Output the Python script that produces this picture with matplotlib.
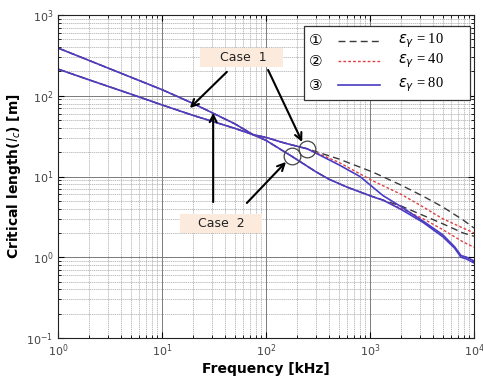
import numpy as np
import matplotlib
matplotlib.use('Agg')
from matplotlib import pyplot as plt
from matplotlib.patches import Rectangle

# curve A: upper at low frequency, lower group at high frequency (case 2 circle)
fA = [1, 2, 5, 10, 20, 30, 50, 75, 100, 178, 300, 400, 600, 1070, 1334]
vA = [390, 273, 170, 119, 80, 62, 45, 33, 28, 17.7, 11.5, 9.3, 7.4, 5.6, 5.1]
# high frequency split of group A
fA_hi = [1334, 2000, 3240, 5000, 7840, 10000]
vA_k10 = [5.1, 4.3, 3.3, 2.6, 2.0, 1.82]
vA_k40 = [5.0, 4.0, 3.0, 2.2, 1.55, 1.33]
fA_b80 = [1334, 2000, 3240, 5000, 6500, 7500, 8500, 10000]
vA_k80 = [4.9, 3.9, 2.7, 1.8, 1.3, 1.0, 0.95, 0.85]

# curve B: lower at low frequency, upper group at high frequency (case 1 circle)
fB = [1, 2, 5, 10, 20, 50, 75, 100, 150, 250]
vB = [214, 157, 105, 77, 57, 39.5, 33, 30.5, 26, 22]
fB_hi = [250, 500, 1070, 2000, 3240, 5000, 7840, 10000]
vB_k10 = [22, 16.5, 11.3, 7.8, 5.7, 4.2, 2.9, 2.3]
vB_k40 = [21.5, 15.0, 8.8, 6.0, 4.2, 3.0, 2.3, 2.0]
fB_b80 = [250, 500, 800, 1334, 1950, 3240, 5000, 6500, 7500, 8500, 10000]
vB_k80 = [21, 14, 10, 5.8, 4.3, 2.8, 1.9, 1.35, 1.05, 1.0, 0.9]

eps_labels = ['10', '40', '80']
circled = ['\u2460', '\u2461', '\u2462']
styles = [dict(color='#3a3a3a', ls=(0, (5, 3)), lw=1.0),
          dict(color='#e04040', ls=(0, (2, 1.5)), lw=1.0),
          dict(color='#4a3cc4', ls='-', lw=1.2)]

fig = plt.figure(figsize=(4.83, 3.82), dpi=100)
ax = fig.add_axes([58/483, 44/382, 416/483, 323/382])

def hi(f0, v0, f1, v1):
    return np.array(f0 + f1[1:]), np.array(v0 + v1[1:])

# black, red, then blue on top
for f0, v0, sets in [(fA, vA, [(fA_hi, vA_k10), (fA_hi, vA_k40), (fA_b80, vA_k80)]),
                     (fB, vB, [(fB_hi, vB_k10), (fB_hi, vB_k40), (fB_b80, vB_k80)])]:
    for (f1, v1), st in zip(sets, styles):
        x, y = hi(f0, v0, f1, v1)
        ax.plot(x, y, **st)

ax.set_xscale('log')
ax.set_yscale('log')
ax.set_xlim(1, 1e4)
ax.set_ylim(0.1, 1000)
ax.grid(True, which='major', color='#7a7a7a', lw=0.7)
ax.grid(True, which='minor', color='#a8a8a8', lw=0.5, ls=(0, (2, 1)))
ax.tick_params(which='both', direction='in', top=True, right=True, labelsize=8,
               labelcolor='#444444')
ax.tick_params(which='major', length=4)
ax.tick_params(which='minor', length=2)
for s in ax.spines.values():
    s.set_color('#222222')
    s.set_linewidth(0.8)

ax.set_xlabel('Frequency [kHz]', fontsize=10, fontweight='bold', labelpad=2)
ax.set_ylabel(r'Critical length($\mathit{l}_{c}$) [m]', fontsize=10,
              fontweight='bold', labelpad=2)

# legend box drawn by hand
ax.add_patch(Rectangle((0.591, 0.737), 0.400, 0.229, transform=ax.transAxes,
                       facecolor='white', edgecolor='#333333', lw=0.9, zorder=5))
rows_y = [0.920, 0.857, 0.783]
for ry, c, lab, st in zip(rows_y, circled, eps_labels, styles):
    ax.text(0.619, ry, c, transform=ax.transAxes, ha='center', va='center',
            fontsize=11, family=['DejaVu Sans', 'Noto Sans CJK SC'], zorder=6)
    ax.plot([0.673, 0.774], [ry, ry], transform=ax.transAxes, zorder=6, **st)
    ax.text(0.818, ry, r'$\varepsilon_{\gamma}$ = ' + lab, transform=ax.transAxes,
            ha='left', va='center', fontsize=10.5, family='Liberation Serif', zorder=6)

# case boxes
box_c = '#fcebdd'
ax.add_patch(Rectangle((0.341, 0.839), 0.200, 0.059, transform=ax.transAxes,
                       facecolor=box_c, edgecolor='none', zorder=4))
ax.text(0.445, 0.868, 'Case  1', transform=ax.transAxes, ha='center', va='center',
        fontsize=9, color='#222222', zorder=6)
ax.add_patch(Rectangle((0.293, 0.325), 0.197, 0.059, transform=ax.transAxes,
                       facecolor=box_c, edgecolor='none', zorder=4))
ax.text(0.392, 0.354, 'Case  2', transform=ax.transAxes, ha='center', va='center',
        fontsize=9, color='#222222', zorder=6)

arrows = [((0.406, 0.824), (0.317, 0.712)),
          ((0.505, 0.830), (0.587, 0.607)),
          ((0.373, 0.421), (0.373, 0.697)),
          ((0.454, 0.418), (0.548, 0.545))]
for tail, head in arrows:
    ax.annotate('', xy=head, xytext=tail, xycoords='axes fraction',
                textcoords='axes fraction',
                arrowprops=dict(arrowstyle='->,head_length=0.5,head_width=0.25',
                                color='black', lw=1.5, shrinkA=0, shrinkB=0),
                zorder=7)

# circles marking the split points
circ_f = [248, 178]
circ_v = [22, 18]
ax.plot(circ_f, circ_v, 'o', mfc='none', mec='#444444', ms=12, mew=0.9, zorder=7)

fig.savefig('out.png', dpi=100)
